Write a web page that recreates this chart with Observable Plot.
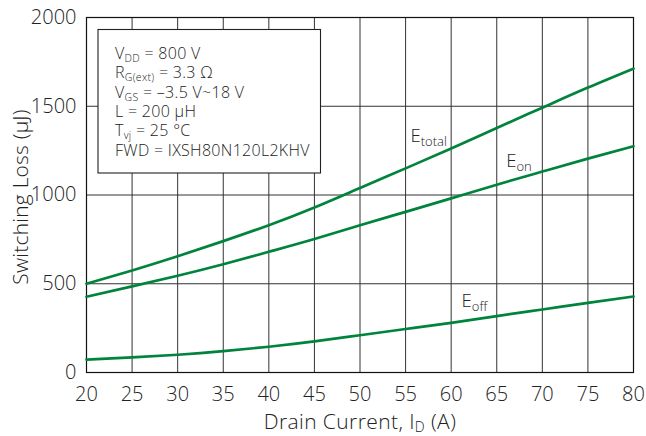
<!DOCTYPE html>
<html><head><meta charset="utf-8">
<script src="https://cdn.jsdelivr.net/npm/d3@7"></script>
<script src="https://cdn.jsdelivr.net/npm/@observablehq/plot@0.6"></script>
<style>body{margin:0;background:#fff}</style>
</head><body><div id="chart"></div>
<script>
// Data
const current = [20, 25, 30, 35, 40, 45, 50, 55, 60, 65, 70, 75, 80];
const eTotal  = [500, 575, 655, 740, 830, 930, 1040, 1150, 1262, 1378, 1492, 1605, 1712];
const eOn     = [427, 485, 545, 610, 680, 752, 830, 905, 981, 1058, 1132, 1205, 1275];
const eOff    = [73, 85, 100, 120, 145, 175, 210, 245, 280, 318, 355, 392, 428];
const xTicks  = [20, 25, 30, 35, 40, 45, 50, 55, 60, 65, 70, 75, 80];
const yTicks  = [0, 500, 1000, 1500, 2000];
const curveLabels = [
  {x: 55.6, y: 1297, main: "E", sub: "total"},
  {x: 66.1, y: 1156, main: "E", sub: "on"},
  {x: 61.2, y: 366, main: "E", sub: "off"}
];
const conditions = [
  [["V"], ["DD", 1], [" = 800 V"]],
  [["R"], ["G(ext)", 1], [" = 3.3 Ω"]],
  [["V"], ["GS", 1], [" = –3.5 V~18 V"]],
  [["L = 200 µH"]],
  [["T"], ["vj", 1], [" = 25 °C"]],
  [["FWD = IXSH80N120L2KHV"]]
];
const xTitle = [["Drain Current, I"], ["D", 1], [" (A)"]];
const yTitle = "Switching Loss (µJ)";

const rows = current.flatMap((x, i) => [
  {x, y: eTotal[i], s: "total"},
  {x, y: eOn[i], s: "on"},
  {x, y: eOff[i], s: "off"}
]);
const green = "#00843D";
const font = "Open Sans";
const weight = 300;

const chart = Plot.plot({
  width: 646, height: 436,
  marginLeft: 86, marginRight: 13, marginTop: 17, marginBottom: 64,
  style: {fontFamily: font, fontSize: "20px", fontWeight: weight, color: "#222", background: "#fff", overflow: "visible"},
  x: {domain: [20, 80], label: null},
  y: {domain: [0, 2000], label: null},
  marks: [
    Plot.gridX(xTicks, {stroke: "#333", strokeOpacity: 1, strokeWidth: 1}),
    Plot.gridY(yTicks, {stroke: "#333", strokeOpacity: 1, strokeWidth: 1}),
    Plot.frame({stroke: "#111", strokeWidth: 1.2}),
    Plot.line(rows, {x: "x", y: "y", z: "s", stroke: green, strokeWidth: 2.7, curve: "natural"}),
    Plot.axisX(xTicks, {tickSize: 0, tickPadding: 14, fontSize: 20, fill: "#222", tickFormat: d3.format("d")}),
    Plot.axisY(yTicks, {tickSize: 0, tickPadding: 10, fontSize: 20, fill: "#222", tickFormat: d3.format("d")})
  ]
});
document.getElementById("chart").appendChild(chart);

const svg = d3.select(chart.tagName === "svg" ? chart : chart.querySelector("svg"));
const sx = chart.scale("x"), sy = chart.scale("y");

function richText(g, x, y, parts, size, subSize, shift, anchor, spacing) {
  const t = g.append("text").attr("x", x).attr("y", y)
    .attr("font-family", font).attr("font-weight", weight).attr("font-size", size).attr("fill", "#222")
    .attr("text-anchor", anchor || "start")
    .attr("letter-spacing", spacing || 0);
  let down = false;
  parts.forEach(([s, sub]) => {
    const ts = t.append("tspan").text(s);
    if (sub && !down) { ts.attr("dy", shift).attr("font-size", subSize); down = true; }
    else if (!sub && down) { ts.attr("dy", -shift); down = false; }
  });
  return t;
}

// Curve labels
curveLabels.forEach(d => {
  richText(svg, sx.apply(d.x), sy.apply(d.y), [[d.main], [d.sub, 1]], 18.5, 13, 4);
});

// Conditions box
const box = svg.append("g");
box.append("rect").attr("x", 98).attr("y", 29.5).attr("width", 222.5).attr("height", 143.5)
  .attr("fill", "#fff").attr("stroke", "#222").attr("stroke-width", 1.1);
conditions.forEach((parts, i) => {
  richText(box, 115, 59 + i * 19.3, parts, 16, 10.5, 3, "start", 0.3);
});

// Axis titles
richText(svg, 360, 429, xTitle, 21, 14, 3, "middle", 0.4);
svg.append("text").attr("transform", "translate(28,197) rotate(-90)")
  .attr("text-anchor", "middle").attr("font-family", font).attr("font-weight", weight).attr("font-size", 21)
  .attr("letter-spacing", 0.2).attr("fill", "#222").text(yTitle);
</script>
</body></html>
